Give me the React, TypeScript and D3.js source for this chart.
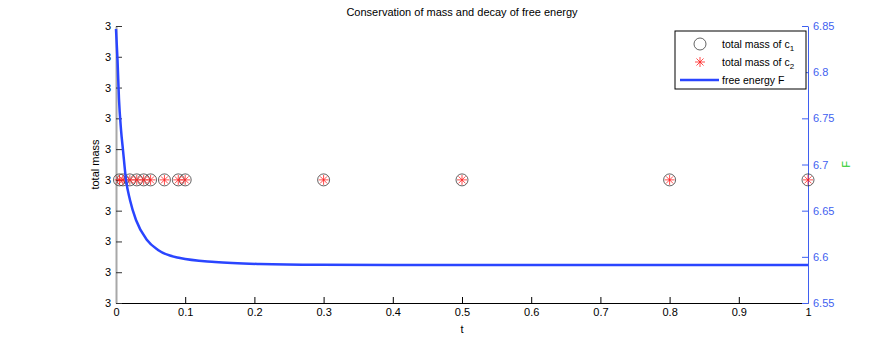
import { useEffect, useRef } from 'react';
import * as d3 from 'd3';

// sample times where the mass was recorded
const massTimes = [0.005, 0.01, 0.02, 0.03, 0.04, 0.05, 0.07, 0.09, 0.1, 0.3, 0.5, 0.8, 1];
const massC1 = [3, 3, 3, 3, 3, 3, 3, 3, 3, 3, 3, 3, 3];
const massC2 = [3, 3, 3, 3, 3, 3, 3, 3, 3, 3, 3, 3, 3];
const massTickLabels = ['3', '3', '3', '3', '3', '3', '3', '3', '3', '3'];

// free energy curve
const energyT = [0, 0.0022, 0.0043, 0.0072, 0.0101, 0.0145, 0.0202, 0.0289, 0.0448, 0.0607, 0.0925, 0.143, 0.208, 0.295, 0.4, 0.6, 0.8, 1];
const energyF = [6.8467, 6.813, 6.771, 6.738, 6.7157, 6.6832, 6.6616, 6.6399, 6.6182, 6.6074, 6.5987, 6.5944, 6.5922, 6.5913, 6.5911, 6.5911, 6.5911, 6.5911];

const tTicks = [0, 0.1, 0.2, 0.3, 0.4, 0.5, 0.6, 0.7, 0.8, 0.9, 1];
const fTicks = [6.55, 6.6, 6.65, 6.7, 6.75, 6.8, 6.85];

const BLUE = '#2a45ff';
const AXIS_BLUE = '#3f5ff0';

const App = () => {
  const ref = useRef<SVGSVGElement>(null);

  useEffect(() => {
    const width = 893;
    const height = 342;
    const margin = { top: 26, right: 85, bottom: 39, left: 116 };
    const w = width - margin.left - margin.right;
    const h = height - margin.top - margin.bottom;
    const font = '"Liberation Sans", Arial, sans-serif';

    const svg = d3.select(ref.current);
    svg.selectAll('*').remove();

    const g = svg.append('g').attr('transform', `translate(${margin.left},${margin.top})`);

    const x = d3.scaleLinear().domain([0, 1]).range([0, w]);
    const step = 2 ** -49;
    const massTickValues = massTickLabels.map((_, i) => 3 + (i - 4) * step);
    const yL = d3.scaleLinear().domain([3 - 4 * step, 3 + 5 * step]).range([h, 0]);
    const yR = d3.scaleLinear().domain([6.55, 6.85]).range([h, 0]);

    // bottom axis
    const ax = g.append('g').attr('transform', `translate(0,${h})`)
      .call(d3.axisBottom(x).tickValues(tTicks).tickSizeInner(-6).tickSizeOuter(0).tickPadding(5).tickFormat(d3.format('~g')));
    ax.select('.domain').attr('stroke', '#000');
    ax.selectAll('text').attr('font-family', font).attr('font-size', 11).attr('fill', '#000');

    // left axis
    const al = g.append('g')
      .call(d3.axisLeft(yL).tickValues(massTickValues).tickSizeInner(-6).tickSizeOuter(0).tickPadding(5)
        .tickFormat((_, i) => massTickLabels[i]));
    al.select('.domain').attr('stroke', '#a8a8a8').attr('stroke-width', 2);
    al.selectAll('.tick line').attr('stroke', '#333');
    al.selectAll('text').attr('font-family', font).attr('font-size', 11).attr('fill', '#000');

    // right axis
    const ar = g.append('g').attr('transform', `translate(${w},0)`)
      .call(d3.axisRight(yR).tickValues(fTicks).tickSizeInner(-6).tickSizeOuter(0).tickPadding(5).tickFormat(d3.format('~g')));
    ar.select('.domain').attr('stroke', AXIS_BLUE);
    ar.selectAll('.tick line').attr('stroke', AXIS_BLUE);
    ar.selectAll('text').attr('font-family', font).attr('font-size', 11).attr('fill', AXIS_BLUE);

    // mass markers
    const pts = g.append('g');
    massTimes.forEach((t, i) => {
      pts.append('circle').attr('cx', x(t)).attr('cy', yL(massC1[i])).attr('r', 6)
        .attr('fill', 'none').attr('stroke', '#222').attr('stroke-width', 0.7);
    });
    const star = (sel: any, cx: number, cy: number, r: number) => {
      [0, 45, 90, 135].forEach((a) => {
        const rad = (a * Math.PI) / 180;
        sel.append('line')
          .attr('x1', cx - r * Math.cos(rad)).attr('y1', cy - r * Math.sin(rad))
          .attr('x2', cx + r * Math.cos(rad)).attr('y2', cy + r * Math.sin(rad))
          .attr('stroke', '#ff2020').attr('stroke-width', 0.8);
      });
    };
    massTimes.forEach((t, i) => star(pts, x(t), yL(massC2[i]), 5));

    // free energy line
    const line = d3.line<number>().x((_, i) => x(energyT[i])).y((d) => yR(d)).curve(d3.curveMonotoneX);
    g.append('path').datum(energyF).attr('d', line).attr('fill', 'none')
      .attr('stroke', BLUE).attr('stroke-width', 2.5);

    // labels
    svg.append('text').attr('x', margin.left + w / 2).attr('y', 16).attr('text-anchor', 'middle')
      .attr('font-family', font).attr('font-size', 11).text('Conservation of mass and decay of free energy');
    svg.append('text').attr('x', margin.left + w / 2).attr('y', 333).attr('text-anchor', 'middle')
      .attr('font-family', font).attr('font-size', 11).text('t');
    svg.append('text').attr('transform', `translate(99,${margin.top + h / 2}) rotate(-90)`).attr('text-anchor', 'middle')
      .attr('font-family', font).attr('font-size', 11).text('total mass');
    svg.append('text').attr('transform', `translate(850,${margin.top + h / 2}) rotate(-90)`).attr('text-anchor', 'middle')
      .attr('font-family', font).attr('font-size', 11).attr('fill', '#22cc22').text('F');

    // legend
    const lg = svg.append('g').attr('transform', 'translate(675,31)');
    lg.append('rect').attr('width', 131).attr('height', 58).attr('fill', '#fff').attr('stroke', '#000').attr('stroke-width', 1);
    lg.append('circle').attr('cx', 25).attr('cy', 13).attr('r', 6).attr('fill', 'none').attr('stroke', '#222').attr('stroke-width', 0.7);
    star(lg, 25, 31, 5);
    lg.append('line').attr('x1', 5).attr('x2', 44).attr('y1', 49).attr('y2', 49).attr('stroke', BLUE).attr('stroke-width', 2.5);
    const entry = (y: number, label: string, sub?: string) => {
      const t = lg.append('text').attr('x', 47).attr('y', y).attr('font-family', font).attr('font-size', 10.5);
      t.append('tspan').text(label);
      if (sub) t.append('tspan').attr('dy', 3).attr('font-size', 8).text(sub);
    };
    entry(17, 'total mass of c', '1');
    entry(35, 'total mass of c', '2');
    entry(53, 'free energy F');
  }, []);

  return (
    <svg ref={ref} width={893} height={342} style={{ position: 'absolute', left: 0, top: 0, background: '#fff' }} />
  );
};

export default App;
